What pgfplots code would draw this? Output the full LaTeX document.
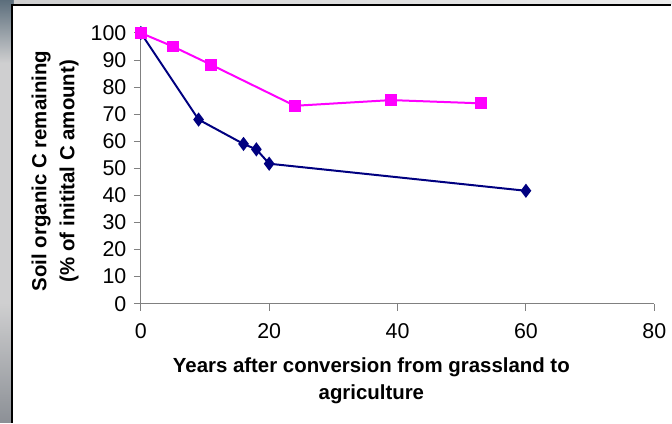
\documentclass[border=0pt]{standalone}
\usepackage{pgfplots}
\pgfplotsset{compat=1.18}
\usepackage{fontspec}
\setmainfont{Liberation Sans}
\definecolor{seriesA}{HTML}{000080}
\definecolor{seriesB}{HTML}{FF00FF}
\definecolor{axisgray}{HTML}{808080}
\definecolor{slate}{HTML}{5C6E7C}
\definecolor{cloud}{HTML}{CFCFD0}
\definecolor{cloudlow}{HTML}{8C9096}
\begin{document}
\begin{tikzpicture}[x=1bp,y=1bp]
% slide backdrop behind the chart panel
\fill[cloud] (0,0) rectangle (672,423);
\shade[top color=slate, bottom color=cloud] (0,360) rectangle (14,423);
\shade[top color=cloud, bottom color=cloudlow] (0,0) rectangle (14,120);
\shade[left color=cloud, right color=white!85!gray] (14,418) rectangle (672,423);
% white chart panel with its dark edge
\fill[white] (12,0) rectangle (672,418);
\draw[black, line width=1.5bp] (12,0) -- (12,418) -- (672,418);
\begin{axis}[
  at={(141bp,119bp)}, anchor=south west,
  scale only axis, width=514bp, height=271bp,
  xmin=0, xmax=80, ymin=0, ymax=100,
  axis lines*=left,
  axis line style={axisgray, line width=1bp},
  xtick={0,20,...,80}, ytick={0,10,...,100},
  tick align=outside, major tick length=7bp,
  tick style={axisgray, line width=1bp},
  tick label style={font=\fontsize{21.5}{21.5}\selectfont},
  /pgf/number format/assume math mode=true,
  xticklabel style={yshift=-9bp},
  yticklabel style={xshift=-4bp},
  clip=false,
  xlabel={Years after conversion from grassland to\\agriculture},
  xlabel style={font=\bfseries\fontsize{20.5}{27}\selectfont, align=center,
    at={(axis description cs:0.449,-0.285)}, anchor=center},
  ylabel={Soil organic C remaining\\(\% of initital C amount)},
  ylabel style={font=\bfseries\fontsize{20.5}{28}\selectfont, align=center,
    at={(axis description cs:-0.167,0.49)}, anchor=center},
]
\addplot[seriesA, line width=2bp, mark=diamond*, mark size=5.5bp,
  mark options={solid, fill=seriesA}] coordinates {
  (0,100) (9,68) (16,59) (18,57) (20,51.7) (60,41.7)
};
\addplot[seriesB, line width=2bp, mark=square*, mark size=5bp,
  mark options={solid, fill=seriesB}] coordinates {
  (0,100) (5,95) (11,88.2) (24,73.1) (39,75.2) (53,74)
};
\end{axis}
\end{tikzpicture}
\end{document}
